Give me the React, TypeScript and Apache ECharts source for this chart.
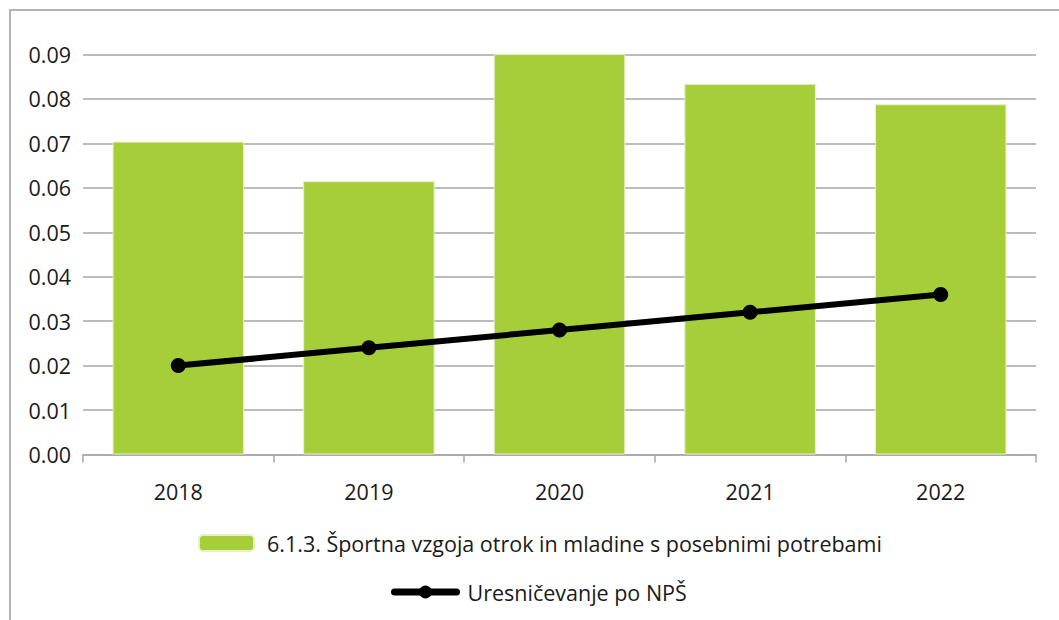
import React, { useEffect, useRef } from "react";
import * as echarts from "echarts";

const categories = ["2018", "2019", "2020", "2021", "2022"];
const barValues = [0.0704, 0.0615, 0.0903, 0.0834, 0.0788];
const lineValues = [0.02, 0.024, 0.028, 0.032, 0.036];
const barName = "6.1.3. Športna vzgoja otrok in mladine s posebnimi potrebami";
const lineName = "Uresničevanje po NPŠ";

export default function App() {
  const ref = useRef<HTMLDivElement>(null);
  useEffect(() => {
    const chart = echarts.init(ref.current!, null, { renderer: "svg" });
    const font = "'Open Sans', 'Noto Sans', sans-serif";
    chart.setOption({
      animation: false,
      backgroundColor: "#ffffff",
      textStyle: { fontFamily: font },
      graphic: [
        {
          type: "polyline",
          shape: { points: [[10, 620], [10, 10], [1059, 10]] },
          style: { stroke: "#b3b3b3", lineWidth: 2, fill: "none" },
        },
      ],
      grid: { left: 83, right: 23, top: 54.5, bottom: 165.5 },
      legend: [
        {
          data: [barName],
          top: 527,
          left: 193,
          itemWidth: 55,
          itemHeight: 16,
          itemGap: 12,
          textStyle: { fontSize: 21.5, color: "#1a1a1a", fontFamily: font, padding: [0, 0, 0, 8] },
        },
        {
          data: [lineName],
          top: 576,
          left: 386,
          itemWidth: 62,
          itemHeight: 16,
          itemGap: 10,
          lineStyle: { width: 7, cap: "round", color: "#000000" },
          textStyle: { fontSize: 21.5, color: "#1a1a1a", fontFamily: font, padding: [0, 0, 0, 6] },
        },
      ],
      xAxis: {
        type: "category",
        data: categories,
        boundaryGap: true,
        axisLine: { lineStyle: { color: "#a6a6a6", width: 1.5 } },
        axisTick: { show: true, length: 8, lineStyle: { color: "#a6a6a6", width: 1.5 } },
        axisLabel: { fontSize: 21.5, color: "#1a1a1a", margin: 26 },
      },
      yAxis: {
        type: "value",
        min: 0,
        max: 0.09,
        interval: 0.01,
        axisLine: { show: false },
        axisTick: { show: false },
        splitLine: { lineStyle: { color: "#a6a6a6", width: 1.5 } },
        axisLabel: {
          fontSize: 21.5,
          color: "#1a1a1a",
          margin: 12,
          formatter: (v: number) => v.toFixed(2),
        },
      },
      series: [
        {
          name: barName,
          type: "bar",
          data: barValues,
          barCategoryGap: "31%",
          itemStyle: { color: "#a6ce39", borderColor: "#e6f0c8", borderWidth: 1 },
        },
        {
          name: lineName,
          type: "line",
          data: lineValues,
          symbol: "circle",
          symbolSize: 15,
          lineStyle: { color: "#000000", width: 6 },
          itemStyle: { color: "#000000" },
          z: 5,
        },
      ],
    });
    return () => chart.dispose();
  }, []);
  return (
    <div
      ref={ref}
      style={{ position: "fixed", left: 0, top: 0, width: 1059, height: 620 }}
    />
  );
}
